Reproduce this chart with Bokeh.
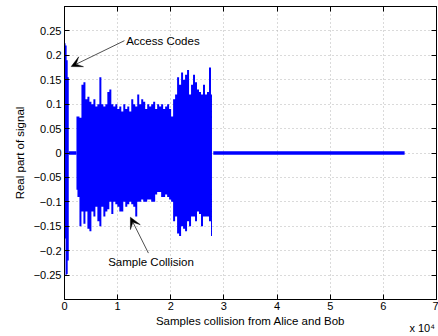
from bokeh.plotting import figure
from bokeh.models import FixedTicker, LinearAxis, Label, Arrow, VeeHead, Range1d
from bokeh.embed import file_html
from bokeh.resources import INLINE

# ---- data (samples, real part of signal) ----
access_x = [0, 200, 400, 600, 800]
access_hi = [0.225, 0.22, 0.19, 0.155, 0.155]
access_lo = [-0.175, -0.25, -0.248, -0.22, -0.22]

gap_x = [800, 2250]
gap_y = [0.0, 0.0]

noise_x = [2250, 2625, 3000, 3375, 3750, 4125, 4500, 4875, 5250, 5625,
           6000, 6375, 6750, 7125, 7500, 7875, 8250, 8625, 9000, 9375,
           9750, 10125, 10500, 10875, 11250, 11625, 12000, 12375, 12750, 13125,
           13500, 13875, 14250, 14625, 15000, 15375, 15750, 16125, 16500, 16875,
           17250, 17625, 18000, 18375, 18750, 19125, 19500, 19875, 20250, 20625,
           21000, 21375, 21750, 22125, 22500, 22875, 23250, 23625, 24000, 24375,
           24750, 25125, 25500, 25875, 26250, 26625, 27000, 27375, 27750]
noise_hi = [0.075, 0.075, 0.072, 0.14, 0.145, 0.11, 0.115, 0.105, 0.1, 0.11,
            0.095, 0.1, 0.155, 0.1, 0.095, 0.1, 0.125, 0.13, 0.1, 0.095,
            0.1, 0.09, 0.095, 0.085, 0.1, 0.09, 0.095, 0.085, 0.11, 0.1,
            0.095, 0.12, 0.1, 0.11, 0.105, 0.09, 0.1, 0.095, 0.1, 0.105,
            0.09, 0.1, 0.095, 0.1, 0.09, 0.095, 0.1, 0.09, 0.075, 0.11,
            0.12, 0.155, 0.14, 0.165, 0.15, 0.16, 0.17, 0.12, 0.14, 0.16,
            0.145, 0.13, 0.125, 0.12, 0.14, 0.12, 0.125, 0.175, 0.12]
noise_lo = [-0.075, -0.09, -0.15, -0.12, -0.145, -0.12, -0.155, -0.16, -0.12, -0.13,
            -0.11, -0.14, -0.15, -0.11, -0.13, -0.12, -0.115, -0.1, -0.125, -0.1,
            -0.105, -0.11, -0.12, -0.12, -0.1, -0.11, -0.105, -0.1, -0.105, -0.11,
            -0.13, -0.1, -0.1, -0.095, -0.1, -0.1, -0.095, -0.095, -0.1, -0.1,
            -0.085, -0.08, -0.08, -0.09, -0.09, -0.085, -0.09, -0.095, -0.1, -0.14,
            -0.13, -0.165, -0.17, -0.15, -0.155, -0.16, -0.14, -0.15, -0.13, -0.13,
            -0.14, -0.12, -0.125, -0.15, -0.13, -0.13, -0.13, -0.14, -0.17]

tail_x = [28000, 64000]
tail_y = [0.0, 0.0]

x_ticks = [0, 10000, 20000, 30000, 40000, 50000, 60000, 70000]
x_tick_labels = ["0", "1", "2", "3", "4", "5", "6", "7"]
y_ticks = [-0.25, -0.2, -0.15, -0.1, -0.05, 0.0, 0.05, 0.1, 0.15, 0.2, 0.25]
y_tick_labels = ["\u22120.25", "\u22120.2", "\u22120.15", "\u22120.1", "\u22120.05", "0",
                 "0.05", "0.1", "0.15", "0.2", "0.25"]
scale_tick = [67300]
scale_label = ["x 10\u2074"]

FONT = "Liberation Sans"
BLUE = "#0000ff"

p = figure(width=438, height=336, x_range=Range1d(0, 70000), y_range=Range1d(-0.3, 0.3),
           output_backend="svg", toolbar_location=None,
           min_border_left=64, min_border_right=2, min_border_top=6, min_border_bottom=36)
p.background_fill_color = "white"
p.border_fill_color = "white"
p.outline_line_color = "black"
p.outline_line_width = 1

# signal (envelopes drawn as solid stepped areas)
p.varea_step(x=access_x, y1=access_lo, y2=access_hi, step_mode="after", fill_color=BLUE)
p.line(gap_x, gap_y, color=BLUE, line_width=3.3)
p.varea_step(x=noise_x, y1=noise_lo, y2=noise_hi, step_mode="center", fill_color=BLUE)
p.line(tail_x, tail_y, color=BLUE, line_width=3.3)

# axes
xt = FixedTicker(ticks=x_ticks, minor_ticks=[])
yt = FixedTicker(ticks=y_ticks, minor_ticks=[])
xo = dict(zip(x_ticks, x_tick_labels))
yo = dict(zip(y_ticks, y_tick_labels))

for ax in p.xaxis:
    ax.ticker = xt
    ax.major_label_overrides = xo
for ax in p.yaxis:
    ax.ticker = yt
    ax.major_label_overrides = yo

def style(ax):
    ax.axis_line_color = "black"
    ax.major_tick_line_color = "black"
    ax.major_tick_in = 5
    ax.major_tick_out = 0
    ax.minor_tick_line_color = None
    ax.major_label_text_font = FONT
    ax.major_label_text_font_size = "11px"
    ax.major_label_text_color = "black"
    ax.axis_label_text_font = FONT
    ax.axis_label_text_font_size = "11.5px"
    ax.axis_label_text_font_style = "normal"
    ax.axis_label_text_color = "black"

for ax in p.xaxis + p.yaxis:
    style(ax)
p.xaxis.axis_label = "Samples collision from Alice and Bob"
p.yaxis.axis_label = "Real part of signal"
p.xaxis.major_label_standoff = 2
p.xaxis.axis_label_standoff = 2
p.yaxis.major_label_standoff = 3
p.yaxis.axis_label_standoff = 5

top_ax = LinearAxis(ticker=xt)
right_ax = LinearAxis(ticker=yt)
for ax in (top_ax, right_ax):
    style(ax)
    ax.major_label_text_font_size = "0px"
    ax.major_label_standoff = 0
p.add_layout(top_ax, "above")
p.add_layout(right_ax, "right")

# "x 10^4" scale note below the x axis label, at the right end
scale_ax = LinearAxis(ticker=FixedTicker(ticks=scale_tick, minor_ticks=[]),
                      major_label_overrides=dict(zip(scale_tick, scale_label)))
style(scale_ax)
scale_ax.axis_line_color = None
scale_ax.major_tick_line_color = None
scale_ax.major_tick_in = 0
scale_ax.major_label_standoff = -8
p.add_layout(scale_ax, "below")

# grid
p.xgrid.ticker = xt
p.ygrid.ticker = yt
for g in (p.xgrid, p.ygrid):
    g.grid_line_color = "#b4b4b4"
    g.grid_line_dash = "1 3"
    g.grid_line_width = 1

# annotations
p.add_layout(Label(x=11600, y=0.2302, text="Access Codes", text_font=FONT,
                   text_font_size="11.5px", text_baseline="middle", text_align="left",
                   text_color="black"))
p.add_layout(Arrow(x_start=11278, y_start=0.230, x_end=1259, y_end=0.177,
                   line_color="#222222", line_width=0.8,
                   end=VeeHead(size=11, fill_color="black", line_color="black", line_width=0.5)))
p.add_layout(Label(x=8214, y=-0.2229, text="Sample Collision", text_font=FONT,
                   text_font_size="11.5px", text_baseline="middle", text_align="left",
                   text_color="black"))
p.add_layout(Arrow(x_start=15789, y_start=-0.205, x_end=12406, y_end=-0.1316,
                   line_color="#222222", line_width=0.8,
                   end=VeeHead(size=11, fill_color="black", line_color="black", line_width=0.5)))

open("out.html", "w").write(file_html(p, INLINE))
